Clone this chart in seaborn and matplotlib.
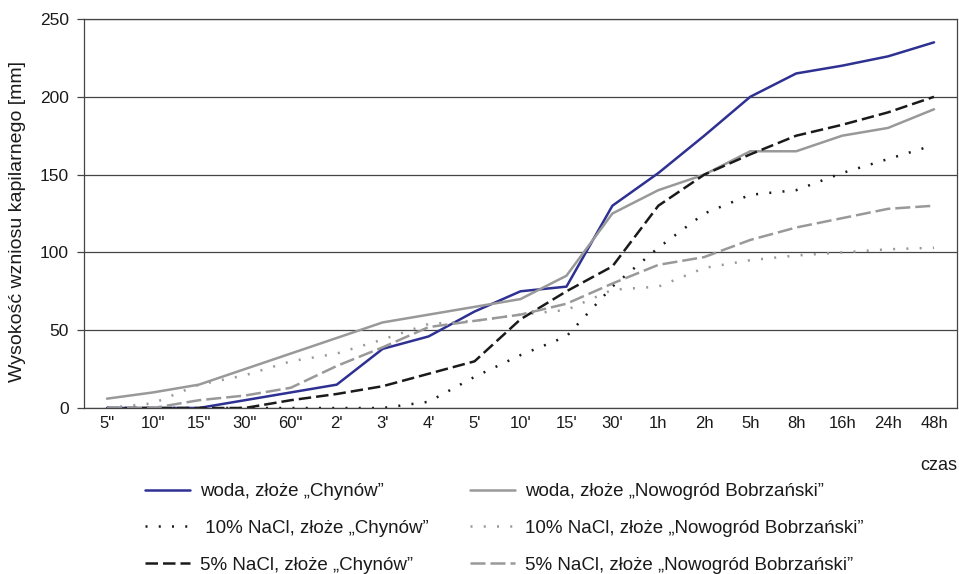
import pandas as pd
import seaborn as sns
import matplotlib.pyplot as plt
from matplotlib.lines import Line2D

# Categories (time)
czas = ['5"', '10"', '15"', '30"', '60"', "2'", "3'", "4'", "5'", "10'",
        "15'", "30'", '1h', '2h', '5h', '8h', '16h', '24h', '48h']

# Capillary rise [mm]
woda_chynow = [0, 0, 0, 5, 10, 15, 38, 46, 62, 75, 78, 130, 151, 175, 200, 215, 220, 226, 235]
woda_nowogrod = [6, 10, 15, 25, 35, 45, 55, 60, 65, 70, 85, 125, 140, 150, 165, 165, 175, 180, 192]
nacl10_chynow = [0, 0, 0, 0, 0, 0, 0, 4, 20, 34, 46, 78, 103, 125, 137, 140, 151, 160, 169]
nacl10_nowogrod = [0, 3, 15, 21, 30, 35, 44, 54, 56, 60, 63, 76, 78, 90, 95, 98, 100, 102, 103]
nacl5_chynow = [0, 0, 0, 0, 5, 9, 14, 22, 30, 57, 75, 91, 130, 150, 163, 175, 182, 190, 200]
nacl5_nowogrod = [0, 0, 5, 8, 13, 27, 39, 52, 56, 60, 67, 80, 92, 97, 108, 116, 122, 128, 130]

labels = ['woda, złoże „Chynów”', 'woda, złoże „Nowogród Bobrzański”',
          ' 10% NaCl, złoże „Chynów”', '10% NaCl, złoże „Nowogród Bobrzański”',
          '5% NaCl, złoże „Chynów”', '5% NaCl, złoże „Nowogród Bobrzański”']

BLUE = '#2e3192'
GRAY = '#999999'
BLACK = '#1a1a1a'

styles = [
    (woda_chynow, BLUE, '-'),
    (woda_nowogrod, GRAY, '-'),
    (nacl10_chynow, BLACK, (0, (0.8, 4.5))),
    (nacl10_nowogrod, GRAY, (0, (0.8, 4.5))),
    (nacl5_chynow, BLACK, (0, (5, 2))),
    (nacl5_nowogrod, GRAY, (0, (6, 2))),
]

sns.set_theme(style='white')
plt.rcParams['font.family'] = ['Liberation Sans', 'DejaVu Sans']

fig = plt.figure(figsize=(9.59, 5.74), dpi=100)
ax = fig.add_axes([84 / 959, 1 - 408 / 574, (957 - 84) / 959, (408 - 19) / 574])

xpos = list(range(len(czas)))
handles = []
for (vals, color, ls), lab in zip(styles, labels):
    df = pd.DataFrame({'x': xpos, 'y': vals})
    sns.lineplot(data=df, x='x', y='y', ax=ax, color=color, linewidth=1.8,
                 linestyle=ls, legend=False)
    handles.append(Line2D([], [], color=color, linewidth=1.8, linestyle=ls, label=lab))

ax.set_xlim(-0.5, len(czas) - 0.5)
ax.set_ylim(0, 250)
ax.set_yticks(range(0, 251, 50))
ax.yaxis.grid(True, color='#444444', linewidth=0.9)
ax.set_axisbelow(True)

ax.set_xticks(xpos)
ax.set_xticklabels(czas, fontsize=12, color='#1a1a1a')
ax.set_xticks([i - 0.5 for i in range(len(czas) + 1)], minor=True)
ax.tick_params(axis='x', which='major', length=0, pad=6)
ax.tick_params(axis='x', which='minor', length=4, width=0.9, color='#444444', direction='out')
ax.tick_params(axis='y', length=5, width=0.9, color='#444444', direction='out',
               labelsize=12.5, labelcolor='#1a1a1a', left=True, pad=6)

for side in ['left', 'right', 'top', 'bottom']:
    ax.spines[side].set_visible(True)
    ax.spines[side].set_color('#444444')
    ax.spines[side].set_linewidth(0.9)

ax.set_xlabel('')
ax.set_ylabel('')
fig.text(18 / 959, 1 - 222 / 574, 'Wysokość wzniosu kapilarnego [mm]', rotation=90,
         ha='center', va='center', fontsize=14, color='#1a1a1a')

fig.text(957 / 959, 1 - 465 / 574, 'czas', ha='right', va='center', fontsize=13, color='#1a1a1a')

# two legend columns: Chynów on the left, Nowogród on the right
leg_kw = dict(loc='upper left', frameon=False, fontsize=13.5, handlelength=2.4,
              handletextpad=0.55, labelspacing=1.05, borderpad=0, borderaxespad=0,
              labelcolor='#1a1a1a')
fig.legend(handles=[handles[i] for i in (0, 2, 4)],
           bbox_to_anchor=(145 / 959, 1 - 483 / 574), **leg_kw)
fig.legend(handles=[handles[i] for i in (1, 3, 5)],
           bbox_to_anchor=(470 / 959, 1 - 483 / 574), **leg_kw)

fig.savefig('out.png', dpi=100)
